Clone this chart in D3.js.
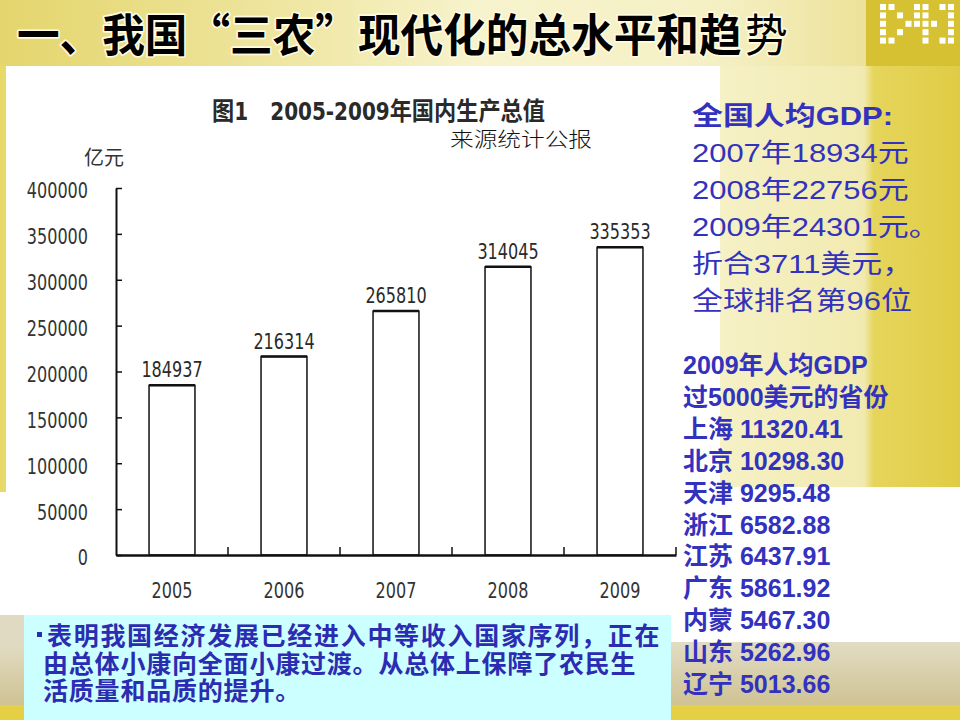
<!DOCTYPE html>
<html>
<head>
<meta charset="utf-8">
<script src="https://cdn.jsdelivr.net/npm/d3@7"></script>
<style>
  body { margin: 0; background: #fff; }
  svg { display: block; }
</style>
</head>
<body>
<svg id="slide" width="960" height="720"></svg>
<script>
// DATA
const slideTitle = ["一、我国“三农”现代化的总水平和趋", "势"];
const chartTitle = "图1\u30002005-2009年国内生产总值";
const sourceNote = "来源统计公报";
const unitLabel = "亿元";
const years = ["2005", "2006", "2007", "2008", "2009"];
const gdp = [184937, 216314, 265810, 314045, 335353];
const yTicks = [0, 50000, 100000, 150000, 200000, 250000, 300000, 350000, 400000];
const perCapitaHead = "全国人均GDP:";
const perCapitaLines = ["2007年18934元", "2008年22756元", "2009年24301元。", "折合3711美元，", "全球排名第96位"];
const provinceHeader = ["2009年人均GDP", "过5000美元的省份"];
const provinces = ["上海", "北京", "天津", "浙江", "江苏", "广东", "内蒙", "山东", "辽宁"];
const provinceUsd = [11320.41, 10298.30, 9295.48, 6582.88, 6437.91, 5861.92, 5467.30, 5262.96, 5013.66];
const noteLines = [
  "表明我国经济发展已经进入中等收入国家序列，正在",
  "由总体小康向全面小康过渡。从总体上保障了农民生",
  "活质量和品质的提升。"
];

const narrow = "'Liberation Sans Narrow','DejaVu Sans Condensed','Noto Sans CJK SC',sans-serif";
const sans = "'Liberation Sans',Arial,'Noto Sans CJK SC',sans-serif";
const blue = "#3232be";
const digitW = 10.2; // narrow chart digits

const svg = d3.select("#slide");
const defs = svg.append("defs");

// BACKGROUND (slide template)
const topGrad = defs.append("linearGradient").attr("id", "topGrad");
[[0, "#e4d56c"], [0.25, "#ede398"], [0.5, "#f7f3cd"], [0.75, "#f5f0c4"], [0.9, "#ece29a"]]
  .forEach(s => topGrad.append("stop").attr("offset", s[0]).attr("stop-color", s[1]));
const sideGrad = defs.append("linearGradient").attr("id", "sideGrad");
[[0, "#f6f1c6"], [0.6, "#f1eab0"], [0.64, "#e6d55c"], [1, "#e0cc44"]]
  .forEach(s => sideGrad.append("stop").attr("offset", s[0]).attr("stop-color", s[1]));
const mapGrad = defs.append("linearGradient").attr("id", "mapGrad").attr("x2", 0).attr("y2", 1);
[[0, "#e2dcc4"], [0.6, "#d6cda6"], [1, "#cfc293"]]
  .forEach(s => mapGrad.append("stop").attr("offset", s[0]).attr("stop-color", s[1]));

svg.append("rect").attr("width", 960).attr("height", 720).attr("fill", "#fff");
svg.append("rect").attr("width", 960).attr("height", 66).attr("fill", "url(#topGrad)");
svg.append("rect").attr("x", 866).attr("width", 94).attr("height", 66).attr("fill", "#d5c132");
svg.append("rect").attr("x", 720).attr("y", 66).attr("width", 240).attr("height", 421).attr("fill", "url(#sideGrad)");
svg.append("rect").attr("x", 0).attr("y", 66).attr("width", 6).attr("height", 426).attr("fill", "#e8da68");
svg.append("rect").attr("x", 0).attr("y", 642).attr("width", 960).attr("height", 64).attr("fill", "url(#mapGrad)");
svg.append("rect").attr("x", 0).attr("y", 615).attr("width", 24).attr("height", 30).attr("fill", "#e0dac2");
svg.append("rect").attr("x", 0).attr("y", 705).attr("width", 960).attr("height", 15).attr("fill", "#e4cf45");

// logo squares
const logoRows = ["110011011", "101011001", "100111101", "101001001", "110001011"];
logoRows.forEach((row, r) => {
  row.split("").forEach((c, i) => {
    if (c === "1") {
      svg.append("rect").attr("x", 880 + i * 8.5).attr("y", 4 + r * 8.4)
        .attr("width", 6).attr("height", 6).attr("fill", "#fff");
    }
  });
});

// SLIDE TITLE (glyphs are tall in the original, so stretch the group)
const titleG = svg.append("g").attr("transform", "translate(17,52) scale(1.066,1.13)")
  .style("font-family", "'Noto Sans CJK SC',sans-serif")
  .style("font-size", "40px")
  .attr("fill", "#000")
  .attr("stroke", "#fffbe0").attr("stroke-width", 3).attr("paint-order", "stroke")
  .attr("stroke-linejoin", "round");
titleG.append("text").attr("x", 0).attr("y", 0)
  .style("font-weight", "bold")
  .text(slideTitle[0]);
titleG.append("text").attr("x", 683).attr("y", 0)
  .style("font-weight", "normal")
  .text(slideTitle[1]);

// CHART
const y = d3.scaleLinear().domain([0, 400000]).range([555, 188]);
const x = d3.scaleBand().domain(years).range([116, 676])
  .paddingInner(0.59).paddingOuter(0.295);

svg.append("text")
  .attr("x", 212).attr("y", 120)
  .attr("textLength", 333).attr("lengthAdjust", "spacingAndGlyphs")
  .style("font-family", narrow).style("font-size", "25px").style("font-weight", "bold")
  .attr("fill", "#2a2a2a")
  .text(chartTitle);

svg.append("text")
  .attr("x", 450).attr("y", 147)
  .attr("textLength", 142).attr("lengthAdjust", "spacingAndGlyphs")
  .style("font-family", "'Noto Sans CJK SC',sans-serif").style("font-size", "20px")
  .style("font-weight", 300)
  .attr("fill", "#111")
  .text(sourceNote);

svg.append("text")
  .attr("x", 104).attr("y", 165).attr("text-anchor", "middle")
  .style("font-family", narrow).style("font-size", "20px")
  .attr("fill", "#333")
  .text(unitLabel);

// bars
const bars = svg.append("g");
bars.selectAll("rect")
  .data(gdp)
  .join("rect")
  .attr("x", (d, i) => x(years[i]))
  .attr("y", d => y(d))
  .attr("width", x.bandwidth())
  .attr("height", d => y(0) - y(d))
  .attr("fill", "#fff")
  .attr("stroke", "#111")
  .attr("stroke-width", 1.5);
bars.selectAll("line")
  .data(gdp)
  .join("line")
  .attr("x1", (d, i) => x(years[i]))
  .attr("x2", (d, i) => x(years[i]) + x.bandwidth())
  .attr("y1", d => y(d)).attr("y2", d => y(d))
  .attr("stroke", "#111").attr("stroke-width", 2.5);
bars.selectAll("text")
  .data(gdp)
  .join("text")
  .attr("x", (d, i) => x(years[i]) + x.bandwidth() / 2)
  .attr("y", d => y(d) - 8)
  .attr("text-anchor", "middle")
  .attr("textLength", d => String(d).length * digitW).attr("lengthAdjust", "spacingAndGlyphs")
  .style("font-family", narrow).style("font-size", "22px")
  .attr("fill", "#2a2a2a")
  .text(d => d);

// y axis
const yAxis = svg.append("g")
  .attr("transform", "translate(116,0)")
  .call(d3.axisLeft(y).tickValues(yTicks).tickSize(-6).tickSizeOuter(0).tickPadding(28).tickFormat(d3.format("d")));
yAxis.select(".domain").attr("stroke", "#111").attr("stroke-width", 2);
yAxis.selectAll(".tick line").attr("stroke", "#111").attr("stroke-width", 1.5);
yAxis.selectAll(".tick text")
  .attr("dy", "0.45em")
  .attr("textLength", d => String(d).length * digitW).attr("lengthAdjust", "spacingAndGlyphs")
  .style("font-family", narrow).style("font-size", "22px").attr("fill", "#333");

// x axis
const xAxis = svg.append("g")
  .attr("transform", "translate(0,555)")
  .call(d3.axisBottom(x).tickSize(0).tickPadding(27));
xAxis.select(".domain").attr("stroke", "#111").attr("stroke-width", 2.5);
xAxis.selectAll(".tick text")
  .attr("textLength", d => d.length * digitW).attr("lengthAdjust", "spacingAndGlyphs")
  .style("font-family", narrow).style("font-size", "22px").attr("fill", "#333");
const edges = years.map(d => x(d) - x.step() * x.paddingInner() / 2).slice(1).concat([x.range()[1]]);
xAxis.selectAll("line.edge")
  .data(edges)
  .join("line")
  .attr("class", "edge")
  .attr("x1", d => d).attr("x2", d => d)
  .attr("y1", 0).attr("y2", -8)
  .attr("stroke", "#111").attr("stroke-width", 1.5);

// RIGHT TEXT: national per-capita GDP
const pc = svg.append("g").attr("transform", "translate(692,0) scale(1.19,1)")
  .style("font-family", sans).style("font-size", "26px").attr("fill", blue);
pc.append("text").attr("x", 0).attr("y", 125).style("font-weight", "bold").text(perCapitaHead);
pc.selectAll("text.line")
  .data(perCapitaLines)
  .join("text")
  .attr("class", "line")
  .attr("x", 0)
  .attr("y", (d, i) => 162 + i * 37)
  .text(d => d);

// RIGHT TEXT: provinces
const pv = svg.append("g")
  .style("font-family", sans).style("font-size", "25px").style("font-weight", "bold").attr("fill", blue);
const provLines = provinceHeader.concat(provinces.map((p, i) => p + " " + d3.format(".2f")(provinceUsd[i])));
pv.selectAll("text")
  .data(provLines)
  .join("text")
  .attr("x", 683)
  .attr("y", (d, i) => 374 + i * 31.9)
  .text(d => d);

// NOTE BOX
svg.append("rect").attr("x", 24).attr("y", 615).attr("width", 647).attr("height", 105).attr("fill", "#ccffff");
const note = svg.append("g")
  .style("font-family", sans).style("font-size", "25px").style("font-weight", "bold")
  .attr("fill", "#2c2cb2");
note.selectAll("text")
  .data(noteLines)
  .join("text")
  .attr("x", (d, i) => i === 0 ? 47 : 43)
  .attr("y", (d, i) => 645 + i * 27.5)
  .style("letter-spacing", (d, i) => i === 0 ? "1.7px" : "0.8px")
  .text(d => d);
note.append("rect").attr("x", 37).attr("y", 632).attr("width", 5).attr("height", 5).attr("fill", "#2c2cb2");
</script>
</body>
</html>
